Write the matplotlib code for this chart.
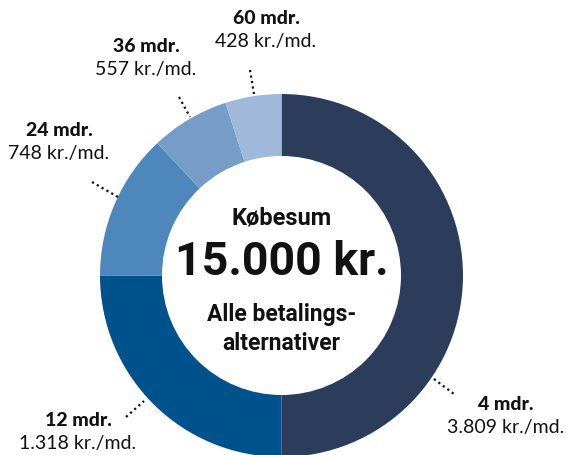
"""
Donut chart: payment alternatives for a 15.000 kr. purchase
"""

import matplotlib.pyplot as plt

# Data
terms = ["4 mdr.", "12 mdr.", "24 mdr.", "36 mdr.", "60 mdr."]
monthly = ["3.809 kr./md.", "1.318 kr./md.", "748 kr./md.", "557 kr./md.", "428 kr./md."]
shares = [50, 25, 13, 7, 5]
colors = ["#2b3d5a", "#00528c", "#4e87bc", "#769dc8", "#a0b8da"]

W, H = 566, 455
fig = plt.figure(figsize=(W / 100, H / 100), dpi=100)
ax = fig.add_axes([0, 0, 1, 1])


# pixel helper (y measured from top)
def py(y):
    return H - y


cx, cy = 281.5, py(275.5)
ax.pie(
    shares,
    colors=colors,
    startangle=90,
    counterclock=False,
    center=(cx, cy),
    radius=181.5,
    wedgeprops=dict(width=62, linewidth=0),
    frame=True,
)
ax.set_xlim(0, W)
ax.set_ylim(0, H)
ax.set_aspect("equal")
ax.axis("off")

# Labels: (x center, y of bold line), leader line start/end
label_pos = [(506, 404), (78, 420), (59, 131), (146, 47), (266, 19)]
leaders = [
    ((434, 379), (454, 394)),
    ((126, 417), (144, 401)),
    ((92, 182), (118, 197)),
    ((179, 97), (190, 117)),
    ((250, 70), (254, 94)),
]

LABEL_FONT = "Lato"
for term, mon, (x, y), (p1, p2) in zip(terms, monthly, label_pos, leaders):
    ax.text(x, py(y), term, ha="center", va="center", fontsize=14,
            fontweight="black", family=LABEL_FONT, color="#111111")
    ax.text(x, py(y + 23), mon, ha="center", va="center", fontsize=14,
            family=LABEL_FONT, color="#111111")
    ax.plot([p1[0], p2[0]], [py(p1[1]), py(p2[1])], linestyle=(0, (1, 1.5)),
            color="#111111", linewidth=1.6)

# Center text
CENTER_FONT = "Roboto"
ax.text(cx, py(218), "Købesum", ha="center", va="center", fontsize=17,
        fontweight="bold", family=CENTER_FONT, color="#111111")
ax.text(cx, py(262), "15.000 kr.", ha="center", va="center", fontsize=33.5,
        fontweight="bold", family=CENTER_FONT, color="#111111")
ax.text(cx, py(315), "Alle betalings-", ha="center", va="center", fontsize=16.5,
        fontweight="bold", family=CENTER_FONT, color="#111111")
ax.text(cx, py(343), "alternativer", ha="center", va="center", fontsize=16.5,
        fontweight="bold", family=CENTER_FONT, color="#111111")

fig.savefig("out.png", dpi=100, facecolor="white")
plt.close()
